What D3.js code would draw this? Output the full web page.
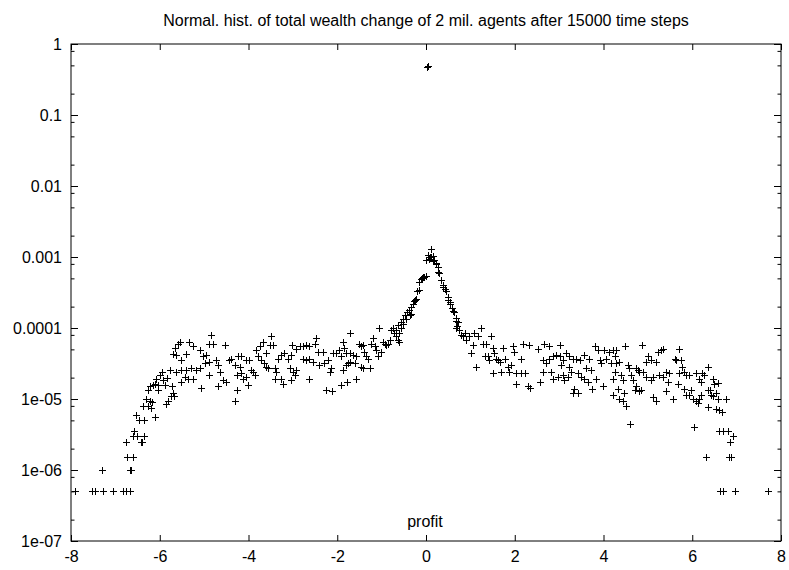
<!DOCTYPE html>
<html><head><meta charset="utf-8">
<script src="https://cdn.jsdelivr.net/npm/d3@7"></script>
<style>
body{margin:0;background:#fff}
svg text{font-family:"Liberation Sans",Arial,Helvetica,sans-serif}
</style>
</head><body>
<svg id="chart" width="789" height="570"></svg>
<script>
// ---------- texts & ticks ----------
const titleText = "Normal. hist. of total wealth change of 2 mil. agents after 15000 time steps";
const xLabelText = "profit";
const xTickValues = [-8, -6, -4, -2, 0, 2, 4, 6, 8];
const yTickValues = [1e-7, 1e-6, 1e-5, 1e-4, 1e-3, 1e-2, 1e-1, 1];
const yTickLabels = ["1e-07", "1e-06", "1e-05", "0.0001", "0.001", "0.01", "0.1", "1"];
const yMinorFactors = [0.8, 0.5, 0.2];

// ---------- data: [profit, normalized frequency] ----------
const spike = [[0.02, 0.48], [0.04, 0.49]];

const leftTail = [
[-7.92,5e-7],[-7.53,5e-7],[-7.47,5e-7],[-7.30,1e-6],[-7.28,5e-7],[-7.05,5e-7],[-6.83,5e-7],
[-6.77,2.5e-6],[-6.75,5e-7],[-6.73,1.5e-6],[-6.68,5e-7],[-6.66,1e-6],[-6.64,1e-6],[-6.61,1.5e-6],
[-6.61,3e-6],[-6.57,3.5e-6],[-6.53,6e-6],[-6.52,3e-6],[-6.47,5e-6],[-6.43,2.5e-6],[-6.41,2.5e-6],
[-6.38,8e-6],[-6.36,5e-6],[-6.35,3e-6],[-6.30,1e-5],[-6.27,8e-6],[-6.27,1.35e-5],[-6.23,9.5e-6],
[-6.23,1.5e-5],[-6.19,7.5e-6],[-6.17,9e-6],[-6.15,1.6e-5],[-6.11,5.5e-6],[-6.11,1.65e-5],
[-6.08,1.9e-5],[-6.04,1.35e-5],[-6.04,1.6e-5]
];

const leftBand = [
[-6.00,2.2e-5],[-5.96,2.4e-5],[-5.93,1.85e-5],[-5.89,1.55e-5],[-5.85,8.5e-6],[-5.84,2.0e-5],[-5.82,9.5e-6],
[-5.76,2.55e-5],[-5.74,1.1e-5],[-5.72,1.5e-5],[-5.70,4.3e-5],[-5.70,1.2e-5],[-5.69,1.1e-5],[-5.66,5.2e-5],
[-5.63,4.2e-5],[-5.63,2.4e-5],[-5.59,6e-5],[-5.55,6.4e-5],[-5.51,2.55e-5],[-5.51,3.5e-5],[-5.51,1.75e-5],
[-5.44,2.05e-5],[-5.40,2.55e-5],[-5.40,4.3e-5],[-5.36,1.9e-5],[-5.33,6.4e-5],[-5.29,2.7e-5],[-5.25,5.5e-5],
[-5.25,1.9e-5],[-5.18,2.55e-5],[-5.10,2.7e-5],[-5.10,4.9e-5],[-5.06,1.45e-5],[-5.03,4.0e-5],[-4.99,3.2e-5],
[-4.95,4.2e-5],[-4.88,2.2e-5],[-4.88,6e-5],[-4.88,3.3e-5],[-4.84,8e-5],[-4.80,6e-5],[-4.73,3.5e-5],
[-4.69,3.0e-5],[-4.69,1.5e-5],[-4.65,2.4e-5],[-4.58,1.85e-5],[-4.54,5.8e-5],[-4.50,1.75e-5],[-4.43,3.5e-5],
[-4.39,3.7e-5],[-4.31,3.0e-5],[-4.31,9.3e-6],[-4.27,2.2e-5],[-4.27,1.35e-5],[-4.24,4.0e-5],[-4.20,2.85e-5],
[-4.16,4.0e-5],[-4.16,2.3e-5],[-4.13,1.9e-5],[-4.05,3.5e-5],[-4.05,2.05e-5],[-4.01,1.55e-5],[-3.98,3.5e-5],
[-3.94,2.55e-5],[-3.90,2.4e-5],[-3.86,2.2e-5],[-3.82,4.9e-5],[-3.79,4.0e-5],[-3.75,5.5e-5],[-3.71,3.5e-5],
[-3.68,6.4e-5],[-3.64,3.2e-5],[-3.60,4.4e-5],[-3.60,2.85e-5],[-3.56,2.7e-5],[-3.52,5.8e-5],[-3.49,7.7e-5],
[-3.45,5.8e-5],[-3.41,2.7e-5],[-3.41,1.9e-5],[-3.37,2.4e-5],[-3.34,3.7e-5],[-3.26,4.2e-5],[-3.26,1.9e-5],
[-3.23,1.65e-5],[-3.19,4.4e-5],[-3.11,3.7e-5],[-3.07,2.7e-5],[-3.04,4.2e-5],[-3.04,1.85e-5],[-3.01,5.8e-5],
[-3.00,2.4e-5],[-2.96,2.2e-5],[-2.92,2.55e-5],[-2.92,5.0e-5],[-2.85,5.5e-5],[-2.77,5.5e-5],[-2.77,3.7e-5],
[-2.70,5.8e-5],[-2.70,3.5e-5],[-2.63,5.5e-5],[-2.63,3.7e-5],[-2.63,1.9e-5],[-2.55,3.3e-5],[-2.51,6e-5],
[-2.47,7.2e-5],[-2.44,4.6e-5],[-2.40,3.0e-5],[-2.32,4.6e-5],[-2.29,3.2e-5],[-2.25,1.35e-5],[-2.21,3.5e-5],
[-2.17,2.4e-5],[-2.14,2.7e-5],[-2.11,1.3e-5],[-2.10,4.4e-5],[-2.02,4.4e-5],[-1.95,4.9e-5],[-1.91,4.0e-5],
[-1.91,1.55e-5],[-1.87,6.4e-5],[-1.87,2.6e-5],[-1.84,5.2e-5],[-1.80,4.4e-5],[-1.80,3.0e-5],[-1.78,1.75e-5],
[-1.76,3.2e-5],[-1.72,4.4e-5],[-1.72,3.3e-5],[-1.71,8.5e-5],[-1.65,4.2e-5],[-1.61,3.2e-5],[-1.57,4.0e-5],
[-1.57,1.9e-5],[-1.51,6e-5]
];

const centralPeak = [
[-1.46,5.5e-5],[-1.46,2.85e-5],[-1.42,5.8e-5],[-1.42,2.7e-5],[-1.39,4.6e-5],[-1.35,4.0e-5],[-1.31,3.7e-5],
[-1.27,2.7e-5],[-1.23,6e-5],[-1.20,7.2e-5],[-1.16,5.5e-5],[-1.12,4.9e-5],[-1.09,4.0e-5],[-1.06,1e-4],
[-1.01,4.6e-5],[-0.97,6.4e-5],[-0.93,6e-5],[-0.90,5.8e-5],[-0.86,6e-5],[-0.82,6.8e-5],[-0.78,9.5e-5],
[-0.75,1e-4],[-0.71,8.5e-5],[-0.67,7.7e-5],[-0.67,9.5e-5],[-0.64,6.8e-5],[-0.64,1.1e-4],[-0.60,6.4e-5],
[-0.60,8.5e-5],[-0.56,1.2e-4],[-0.56,1.0e-4],[-0.52,1.35e-4],[-0.52,1.15e-4],[-0.48,1.5e-4],[-0.45,1.35e-4],
[-0.43,1.7e-4],[-0.39,1.8e-4],[-0.37,1.5e-4],[-0.33,2.0e-4],[-0.33,1.6e-4],[-0.30,2.2e-4],[-0.26,2.4e-4],
[-0.24,2.5e-4],[-0.22,2.6e-4],[-0.21,3.3e-4],[-0.16,3.4e-4],[-0.15,4.5e-4],[-0.11,4.9e-4],[-0.09,5.1e-4],
[-0.06,5.3e-4],[-0.04,5.3e-4],[-0.01,5.4e-4],[0.00,9.0e-4],[0.04,1.05e-3],[0.06,9.5e-4],[0.08,1.0e-3],
[0.12,1.3e-3],[0.12,1.0e-3],[0.15,1.03e-3],[0.15,8.7e-4],[0.19,9.0e-4],[0.23,8.2e-4],[0.23,7.9e-4],
[0.27,6.2e-4],[0.27,7.2e-4],[0.30,5.9e-4],[0.34,4.7e-4],[0.38,3.8e-4],[0.38,4.0e-4],[0.42,3.6e-4],
[0.45,3.3e-4],[0.49,2.5e-4],[0.49,2.7e-4],[0.53,2.2e-4],[0.53,2.3e-4],[0.59,1.9e-4],[0.60,1.75e-4],
[0.62,1.7e-4],[0.64,1.7e-4],[0.67,1.25e-4],[0.68,1.4e-4],[0.68,1.0e-4],[0.70,1.05e-4],[0.72,1.2e-4],
[0.75,9.3e-5],[0.79,8e-5],[0.83,7.7e-5],[0.87,8.5e-5],[0.91,6.8e-5],[0.98,7.7e-5],[1.02,4.4e-5],
[1.05,5.8e-5],[1.09,8.5e-5],[1.13,2.85e-5],[1.17,7.7e-5],[1.24,1e-4],[1.28,6e-5],[1.32,4.0e-5],
[1.36,6e-5],[1.39,4.0e-5],[1.43,3.5e-5],[1.47,7.7e-5]
];

const rightBand = [
[1.50,5.2e-5],[1.50,2.3e-5],[1.54,4.4e-5],[1.58,3.7e-5],[1.62,3.5e-5],[1.66,3.3e-5],[1.69,2.4e-5],
[1.73,5.2e-5],[1.77,3.7e-5],[1.84,2.85e-5],[1.88,2.4e-5],[1.92,3.0e-5],[1.95,5.5e-5],[1.99,4.6e-5],
[2.03,1.65e-5],[2.03,2.3e-5],[2.14,3.7e-5],[2.14,2.3e-5],[2.18,6e-5],[2.22,2.3e-5],[2.29,1.5e-5],
[2.33,5.8e-5],[2.35,1.45e-5],[2.52,5e-5],[2.56,1.75e-5],[2.63,3.5e-5],[2.63,2.4e-5],[2.67,6e-5],
[2.71,3.2e-5],[2.78,5.6e-5],[2.78,3.7e-5],[2.82,2.4e-5],[2.86,4.0e-5],[2.86,1.9e-5],[2.93,4.2e-5],
[2.97,2.05e-5],[3.01,5.8e-5],[3.01,4.0e-5],[3.05,3.0e-5],[3.08,3.5e-5],[3.08,2.2e-5],[3.12,1.85e-5],
[3.16,4.4e-5],[3.19,2.05e-5],[3.23,4.0e-5],[3.23,2.85e-5],[3.27,2.4e-5],[3.31,3.7e-5],[3.32,1.2e-5],
[3.34,1.4e-5],[3.38,3.7e-5],[3.42,2.3e-5],[3.42,1.2e-5],[3.46,3.5e-5],[3.50,2.05e-5],[3.57,4.2e-5],
[3.57,1.9e-5],[3.61,2.7e-5],[3.64,1.75e-5],[3.68,3.7e-5],[3.72,2.55e-5],[3.74,1.4e-5],[3.80,5.5e-5],
[3.83,1.9e-5],[3.87,4.9e-5],[3.91,3.5e-5],[3.95,3.2e-5],[3.98,1.5e-5],[4.02,4.9e-5],[4.06,3.7e-5],
[4.13,4.6e-5],[4.17,3.2e-5],[4.21,4.9e-5],[4.21,1.9e-5],[4.21,1.15e-5],[4.25,4.0e-5],[4.25,2.4e-5],
[4.28,4.9e-5],[4.28,3.2e-5],[4.32,1.4e-5],[4.36,3.3e-5],[4.36,1.0e-5],[4.40,2.2e-5],[4.43,1.85e-5],
[4.43,9.5e-6],[4.47,1.2e-5],[4.49,5.6e-5],[4.51,8e-6],[4.55,3.0e-5],[4.58,2.7e-5],[4.60,4.5e-6],
[4.62,2.2e-5],[4.66,1.85e-5],[4.70,1.35e-5],[4.73,2.7e-5],[4.73,1.5e-5],[4.77,2.55e-5],[4.81,2.4e-5],
[4.81,1.3e-5],[4.85,1.35e-5],[4.87,5.8e-5],[4.88,2.4e-5],[4.96,3.3e-5],[4.96,2.05e-5],[5.00,4.0e-5],
[5.07,3.5e-5],[5.07,1.85e-5],[5.11,2.05e-5],[5.11,1.05e-5],[5.18,3.3e-5],[5.18,9.5e-6],[5.22,4.6e-5],
[5.26,2.2e-5],[5.30,4.9e-5],[5.33,2.05e-5],[5.35,5e-5],[5.41,2.4e-5],[5.41,1.3e-5],[5.45,1.75e-5],
[5.48,2.3e-5],[5.56,1.0e-5],[5.60,3.7e-5],[5.64,3.5e-5],[5.67,1.65e-5],[5.71,5e-5],[5.71,2.3e-5],
[5.75,3.6e-5],[5.78,2.85e-5],[5.82,2.4e-5],[5.82,1.4e-5],[5.86,2.2e-5],[5.86,1.15e-5],[5.93,2.2e-5],
[5.93,1.15e-5],[5.97,1.35e-5]
];

const rightTail = [
[6.01,1.0e-5],[6.05,4e-6],[6.09,2.3e-5],[6.09,9.5e-6],[6.12,8.8e-6],[6.16,1.9e-5],[6.16,1.0e-5],
[6.20,1.75e-5],[6.20,1.15e-5],[6.23,2.3e-5],[6.27,2.2e-5],[6.30,1.5e-6],[6.35,2.85e-5],[6.35,1.35e-5],
[6.35,7.8e-6],[6.39,1.35e-5],[6.42,1.15e-5],[6.46,1.9e-5],[6.46,1.1e-5],[6.50,1.65e-5],[6.54,1.2e-5],
[6.54,7.3e-6],[6.57,1.7e-5],[6.57,1.0e-5],[6.61,7.0e-6],[6.61,3.5e-6],[6.62,5e-7],[6.67,6.5e-6],
[6.70,3.5e-6],[6.70,5e-7],[6.76,1.0e-5],[6.80,3.5e-6],[6.82,1.5e-6],[6.84,2.5e-6],[6.87,1.5e-6],
[6.91,3e-6],[6.97,5e-7],[7.71,5e-7]
];

// ---------- layout ----------
const W = 789, H = 570;
const plot = {left: 71, right: 781, top: 44, bottom: 541};
const fontSize = 16;
const ink = "#000";

const svg = d3.select("#chart");
svg.append("rect").attr("width", W).attr("height", H).attr("fill", "#fff");

const x = d3.scaleLinear().domain([-8, 8]).range([plot.left, plot.right]);
const y = d3.scaleLog().domain([1e-7, 1]).range([plot.bottom, plot.top]);

const yMinorValues = yTickValues.slice(1).flatMap(t => yMinorFactors.map(f => t * f));

function styleAxis(g) {
  g.attr("font-size", fontSize).attr("font-family", "'Liberation Sans', Arial, sans-serif").attr("color", ink);
  g.select(".domain").remove();
  g.selectAll("line").attr("stroke-width", 1);
}

// left axis with labels
svg.append("g").attr("transform", `translate(${plot.left},0)`)
  .call(d3.axisLeft(y).tickValues(yTickValues).tickFormat((d, i) => yTickLabels[i])
        .tickSizeInner(-7).tickSizeOuter(0).tickPadding(9))
  .call(styleAxis);
svg.append("g").attr("transform", `translate(${plot.left},0)`)
  .call(d3.axisLeft(y).tickValues(yMinorValues).tickFormat(() => "").tickSizeInner(-3.5).tickSizeOuter(0))
  .call(styleAxis);
// right axis (mirror)
svg.append("g").attr("transform", `translate(${plot.right},0)`)
  .call(d3.axisRight(y).tickValues(yTickValues).tickFormat(() => "").tickSizeInner(-7).tickSizeOuter(0))
  .call(styleAxis);
svg.append("g").attr("transform", `translate(${plot.right},0)`)
  .call(d3.axisRight(y).tickValues(yMinorValues).tickFormat(() => "").tickSizeInner(-3.5).tickSizeOuter(0))
  .call(styleAxis);
// bottom axis with labels
svg.append("g").attr("transform", `translate(0,${plot.bottom})`)
  .call(d3.axisBottom(x).tickValues(xTickValues).tickFormat(d3.format("d"))
        .tickSizeInner(-6).tickSizeOuter(0).tickPadding(9.5))
  .call(styleAxis);
// top axis (mirror)
svg.append("g").attr("transform", `translate(0,${plot.top})`)
  .call(d3.axisTop(x).tickValues(xTickValues).tickFormat(() => "").tickSizeInner(-6).tickSizeOuter(0))
  .call(styleAxis);

// replace unicode minus with hyphen like gnuplot
svg.selectAll(".tick text").text(function() { return this.textContent.replace("\u2212", "-"); });

// frame
svg.append("rect")
  .attr("x", plot.left).attr("y", plot.top)
  .attr("width", plot.right - plot.left).attr("height", plot.bottom - plot.top)
  .attr("fill", "none").attr("stroke", ink).attr("stroke-width", 1);

// points
const allPoints = [...leftTail, ...leftBand, ...centralPeak, ...rightBand, ...rightTail, ...spike];
svg.append("g").attr("fill", "none").attr("stroke", ink).attr("stroke-width", 1)
  .selectAll("path").data(allPoints).join("path")
  .attr("d", d => {
    const px = Math.round(x(d[0])) + 0.5, py = Math.round(y(d[1])) + 0.5;
    return `M${px - 3.5},${py}h7M${px},${py - 3.5}v7`;
  });

// title and axis label
svg.append("text").attr("x", (plot.left + plot.right) / 2).attr("y", 26)
  .attr("text-anchor", "middle").attr("font-size", fontSize).attr("fill", ink).text(titleText);
svg.append("text").attr("x", 425).attr("y", 527)
  .attr("text-anchor", "middle").attr("font-size", fontSize).attr("fill", ink).text(xLabelText);
</script>
</body></html>
